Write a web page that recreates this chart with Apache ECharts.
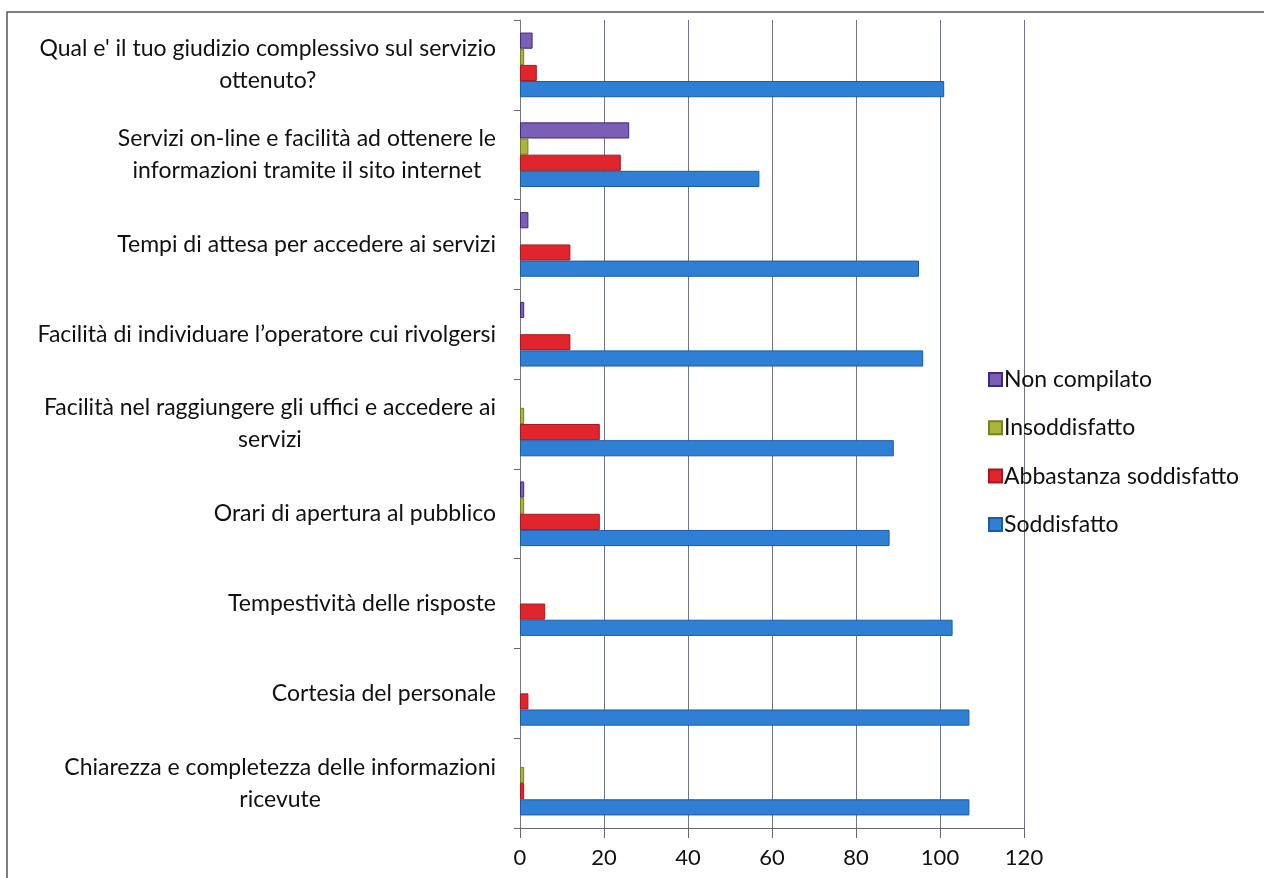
<!DOCTYPE html>
<html>
<head>
<meta charset="utf-8">
<title>Soddisfazione servizi</title>
<script src="https://cdn.jsdelivr.net/npm/echarts@6/dist/echarts.min.js"></script>
<style>
  html, body { margin: 0; padding: 0; background: #fff; }
  #chart { width: 1264px; height: 878px; }
</style>
</head>
<body>
<div id="chart"></div>
<script>
// categorie dall'alto verso il basso, come nel grafico
const categories = [
  "Qual e' il tuo giudizio complessivo sul servizio\nottenuto?",
  'Servizi on-line e facilità ad ottenere le\ninformazioni tramite il sito internet',
  'Tempi di attesa per accedere ai servizi',
  'Facilità di individuare l\u2019operatore cui rivolgersi',
  'Facilità nel raggiungere gli uffici e accedere ai\nservizi',
  'Orari di apertura al pubblico',
  'Tempestività delle risposte',
  'Cortesia del personale',
  'Chiarezza e completezza delle informazioni\nricevute'
]
const nonCompilato = [3, 26, 2, 1, 0, 1, 0, 0, 0]
const insoddisfatto = [1, 2, 0, 0, 1, 1, 0, 0, 1]
const abbastanza = [4, 24, 12, 12, 19, 19, 6, 2, 1]
const soddisfatto = [101, 57, 95, 96, 89, 88, 103, 107, 107]
const xTicks = [0, 20, 40, 60, 80, 100, 120]

const font = 'Lato'
// la y category parte dal basso; gli zeri non disegnano barra (niente bordo)
const rev = arr => arr.slice().reverse().map(v => (v === 0 ? '-' : v))

const chart = echarts.init(document.getElementById('chart'))

const makeSeries = (name, data, color, border) => ({
  name: name,
  type: 'bar',
  data: rev(data),
  barGap: '0%',
  barCategoryGap: '28%',
  itemStyle: { color: color, borderColor: border, borderWidth: 1 }
})

const option = {
  animation: false,
  backgroundColor: '#fff',
  graphic: [{
    type: 'rect',
    shape: { x: 7, y: 12, width: 1262, height: 900 },
    style: { fill: 'none', stroke: '#555', lineWidth: 1.5 },
    silent: true
  }],
  grid: { left: 520, right: 240, top: 20, bottom: 50 },
  legend: {
    orient: 'vertical',
    left: 983,
    top: 363,
    icon: 'rect',
    itemWidth: 13,
    itemHeight: 13,
    itemGap: 25.3,
    data: ['Non compilato', 'Insoddisfatto', 'Abbastanza soddisfatto', 'Soddisfatto'],
    textStyle: { fontFamily: font, fontSize: 23, color: '#111', lineHeight: 22, padding: [0, 0, 0, -3] }
  },
  xAxis: {
    type: 'value',
    min: xTicks[0],
    max: xTicks[xTicks.length - 1],
    interval: xTicks[1] - xTicks[0],
    axisLine: { show: true, lineStyle: { color: '#666', width: 1 } },
    axisTick: { show: true, length: 10, lineStyle: { color: '#666' } },
    axisLabel: { fontFamily: font, fontSize: 22, color: '#111', margin: 19 },
    splitLine: { show: true, lineStyle: { color: '#6f7483', width: 1 } }
  },
  yAxis: {
    type: 'category',
    data: rev(categories),
    axisLine: { show: true, lineStyle: { color: '#777', width: 1 } },
    axisTick: { show: true, length: 6, lineStyle: { color: '#666' } },
    axisLabel: {
      margin: 24,
      align: 'right',
      formatter: v => v.split('\n').map(l => '{c|' + l + '}').join('\n'),
      rich: {
        c: { fontFamily: font, fontSize: 23, color: '#111', lineHeight: 32, align: 'center' }
      }
    }
  },
  series: [
    makeSeries('Non compilato', nonCompilato, '#7a5fb5', '#3b2a80'),
    makeSeries('Insoddisfatto', insoddisfatto, '#a9b53c', '#76801f'),
    makeSeries('Abbastanza soddisfatto', abbastanza, '#e0262c', '#a3191d'),
    makeSeries('Soddisfatto', soddisfatto, '#2f80d4', '#1b5aa6')
  ]
}

chart.setOption(option)
</script>
</body>
</html>
